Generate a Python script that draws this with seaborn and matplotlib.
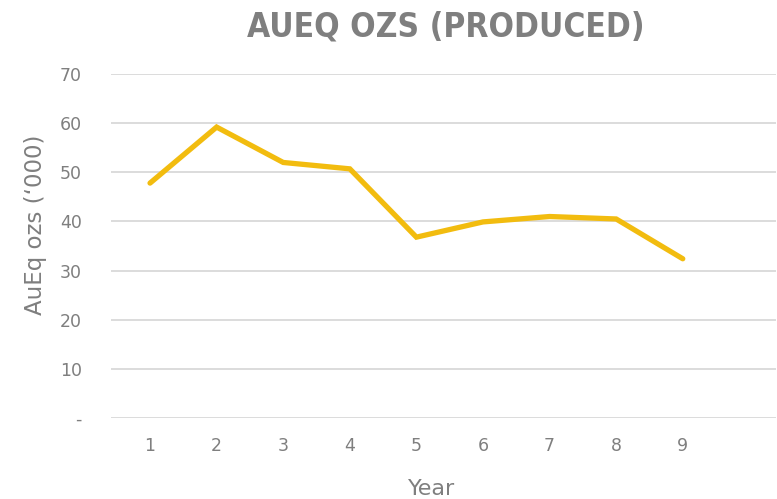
import matplotlib
matplotlib.use("Agg")
import matplotlib.pyplot as plt
import seaborn as sns
import pandas as pd

# data
years = [1, 2, 3, 4, 5, 6, 7, 8, 9]
aueq_ozs = [47.8, 59.2, 52.0, 50.7, 36.8, 39.9, 41.0, 40.5, 32.4]
y_ticks = [0, 10, 20, 30, 40, 50, 60, 70]
y_tick_labels = ["-", "10", "20", "30", "40", "50", "60", "70"]

df = pd.DataFrame({"Year": years, "AuEq": aueq_ozs})

sns.set_style("white")
plt.rcParams['font.family'] = ['DejaVu Sans']
grey = "#7f7f7f"

fig = plt.figure(figsize=(7.77, 4.99), dpi=100)
ax = fig.add_axes([111 / 777, 1 - 418 / 499, 665 / 777, 344 / 499])

sns.lineplot(data=df, x="Year", y="AuEq", ax=ax, color="#F2BC0F",
             linewidth=3.8, solid_capstyle="round", solid_joinstyle="miter")

ax.set_xlim(0.414, 10.4)
ax.set_ylim(0, 70)
ax.set_xticks(years)
ax.set_xticklabels([str(y) for y in years])
ax.set_yticks(y_ticks)
ax.set_yticklabels(y_tick_labels)
ax.grid(axis="y", color="#d9d9d9", linewidth=1.3)
ax.set_axisbelow(True)
for s in ax.spines.values():
    s.set_visible(False)
ax.tick_params(axis="both", length=0, labelsize=12.5, colors=grey)
ax.tick_params(axis="x", pad=14)
ax.tick_params(axis="y", pad=21)

ax.set_xlabel("Year", fontsize=16, color=grey)
ax.xaxis.set_label_coords((432 - 111) / 665, -(489 - 418) / 344)
ax.xaxis.label.set_va("center")
ax.set_ylabel("AuEq ozs (\u2018000)", fontsize=16.5, color=grey)
ax.yaxis.set_label_coords(-(111 - 36) / 665, (418 - 225) / 344)
ax.yaxis.label.set_va("center")

fig.text(446 / 777, 1 - 27 / 499, "AUEQ OZS (PRODUCED)", ha="center", va="center",
         fontsize=24, fontweight="bold", fontstretch="condensed", color=grey)

fig.savefig("out.png", dpi=100)
